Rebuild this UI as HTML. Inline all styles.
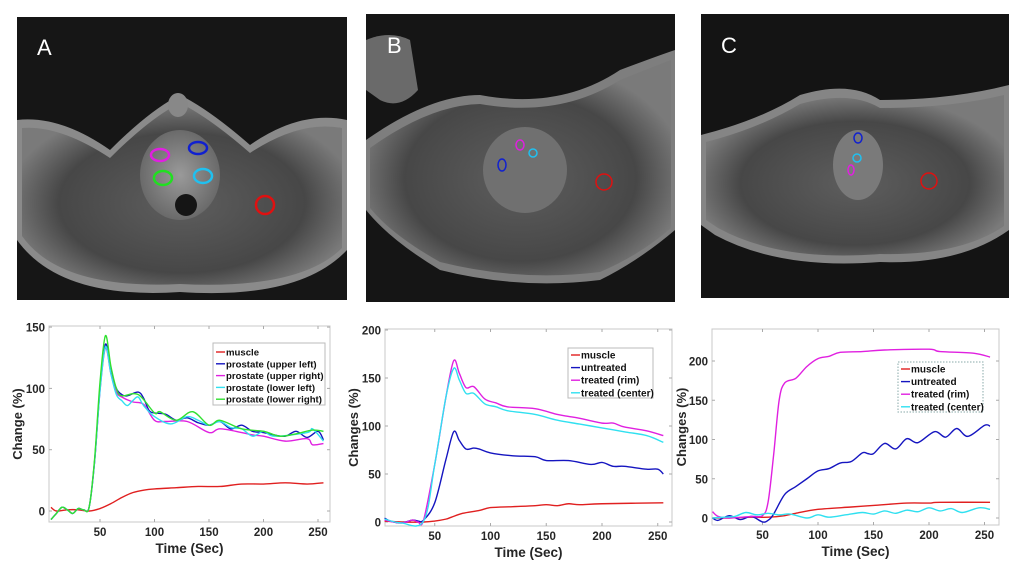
<!DOCTYPE html>
<html><head><meta charset="utf-8">
<style>
html,body{margin:0;padding:0;background:#fff;}
svg{display:block;}
text{font-family:"Liberation Sans",Arial,sans-serif;}
.t{font-size:11.5px;font-weight:bold;fill:#262626;}
.l{font-size:13.5px;font-weight:bold;fill:#262626;}
.y{font-size:13px;font-weight:bold;fill:#262626;}
.g{font-weight:bold;fill:#111;}
</style></head><body>
<svg id="s" width="1027" height="574" viewBox="0 0 1027 574" xmlns="http://www.w3.org/2000/svg">
<defs>
<radialGradient id="bd" cx="50%" cy="55%" r="55%"><stop offset="0" stop-color="#5e5e5e"/><stop offset="0.7" stop-color="#474747"/><stop offset="1" stop-color="#7a7a7a"/></radialGradient>
<radialGradient id="pr" cx="50%" cy="50%" r="50%"><stop offset="0" stop-color="#9a9a9a"/><stop offset="1" stop-color="#6a6a6a"/></radialGradient>
</defs>
<rect x="17" y="17" width="330" height="283" fill="#161616"/>
<path d="M17 120 Q60 115 110 150 Q150 110 180 95 Q210 110 250 145 Q300 110 347 120 L347 250 Q300 300 180 292 Q60 300 17 240Z" fill="#8a8a8a"/>
<path d="M22 128 Q60 125 110 158 Q150 118 180 103 Q210 118 250 153 Q300 120 342 128 L342 248 Q300 290 180 284 Q60 290 22 236Z" fill="url(#bd)"/>
<ellipse cx="180" cy="175" rx="40" ry="45" fill="url(#pr)"/>
<circle cx="186" cy="205" r="11" fill="#151515"/>
<ellipse cx="178" cy="105" rx="10" ry="12" fill="#888"/>
<text x="37" y="55" font-size="22" fill="#fff" font-family="Liberation Sans">A</text>
<ellipse cx="160" cy="155" rx="9" ry="6" fill="none" stroke="#e020e0" stroke-width="2.5"/>
<ellipse cx="198" cy="148" rx="9" ry="6" fill="none" stroke="#1020d0" stroke-width="2.5"/>
<ellipse cx="163" cy="178" rx="9" ry="7" fill="none" stroke="#20e020" stroke-width="2.5"/>
<ellipse cx="203" cy="176" rx="9" ry="7" fill="none" stroke="#20c0f0" stroke-width="2.5"/>
<ellipse cx="265" cy="205" rx="9" ry="9" fill="none" stroke="#e01010" stroke-width="2.5"/>
<rect x="366" y="14" width="309" height="288" fill="#151515"/>
<path d="M366 140 Q430 95 480 95 Q560 110 620 70 Q660 55 675 50 L675 230 Q640 260 600 280 Q520 290 440 270 Q390 240 366 210Z" fill="#7e7e7e"/>
<path d="M370 148 Q430 105 480 104 Q560 118 620 80 Q660 64 671 60 L671 228 Q640 255 600 272 Q520 282 440 262 Q392 235 370 208Z" fill="url(#bd)"/>
<path d="M366 40 Q390 30 410 40 L418 90 Q400 110 380 100 L366 90Z" fill="#6a6a6a"/>
<ellipse cx="525" cy="170" rx="42" ry="43" fill="#707070"/>
<text x="387" y="53" font-size="22" fill="#fff" font-family="Liberation Sans">B</text>
<ellipse cx="520" cy="145" rx="4" ry="5" fill="none" stroke="#e020e0" stroke-width="1.5"/>
<ellipse cx="533" cy="153" rx="4" ry="4" fill="none" stroke="#20c0f0" stroke-width="1.5"/>
<ellipse cx="502" cy="165" rx="4" ry="6" fill="none" stroke="#1020d0" stroke-width="1.5"/>
<ellipse cx="604" cy="182" rx="8" ry="8" fill="none" stroke="#e01010" stroke-width="1.5"/>
<rect x="701" y="14" width="308" height="284" fill="#141414"/>
<path d="M701 135 Q760 120 800 95 Q850 80 880 100 Q950 100 1009 85 L1009 230 Q960 265 880 262 Q780 270 715 235 L701 225Z" fill="#858585"/>
<path d="M706 142 Q760 128 800 104 Q850 90 880 108 Q950 108 1004 95 L1004 226 Q960 256 880 254 Q780 262 718 228 L706 220Z" fill="url(#bd)"/>
<ellipse cx="858" cy="165" rx="25" ry="35" fill="#7a7a7a"/>
<text x="721" y="53" font-size="22" fill="#fff" font-family="Liberation Sans">C</text>
<ellipse cx="858" cy="138" rx="4" ry="5" fill="none" stroke="#1020d0" stroke-width="1.5"/>
<ellipse cx="857" cy="158" rx="4" ry="4" fill="none" stroke="#20c0f0" stroke-width="1.5"/>
<ellipse cx="851" cy="170" rx="3" ry="5" fill="none" stroke="#e020e0" stroke-width="1.5"/>
<ellipse cx="929" cy="181" rx="8" ry="8" fill="none" stroke="#e01010" stroke-width="1.5"/>
<g id="charts"></g>
</svg>
<script>
var NS="http://www.w3.org/2000/svg",G=document.getElementById("charts");
function el(t,a,txt){var e=document.createElementNS(NS,t);for(var k in a)e.setAttribute(k,a[k]);if(txt!=null)e.textContent=txt;G.appendChild(e);return e;}
function path(pts,fx,fy,col){var p=pts.map(function(q){return[fx(q[0]),fy(q[1])]});var d="M"+p[0][0]+" "+p[0][1];
for(var i=0;i<p.length-1;i++){var p0=p[i-1]||p[i],p1=p[i],p2=p[i+1],p3=p[i+2]||p2;
d+=" C"+(p1[0]+(p2[0]-p0[0])/6)+" "+(p1[1]+(p2[1]-p0[1])/6)+" "+(p2[0]-(p3[0]-p1[0])/6)+" "+(p2[1]-(p3[1]-p1[1])/6)+" "+p2[0]+" "+p2[1];}
el("path",{d:d,fill:"none",stroke:col,"stroke-width":1.4});}
function chart(c){
var fx=function(t){return c.x0+t*c.kx},fy=function(v){return c.y0-v*c.ky};
el("rect",{x:c.L,y:c.T,width:c.R-c.L,height:c.B-c.T,fill:"#fff",stroke:"#c8c8c8","stroke-width":1});
[50,100,150,200,250].forEach(function(t){var x=fx(t);el("line",{x1:x,x2:x,y1:c.B,y2:c.B-3,stroke:"#aaa"});el("line",{x1:x,x2:x,y1:c.T,y2:c.T+3,stroke:"#aaa"});el("text",{x:x,y:c.B+14,"text-anchor":"middle","class":"t"},t);});
c.yt.forEach(function(v){var y=fy(v);el("line",{x1:c.L,x2:c.L+3,y1:y,y2:y,stroke:"#aaa"});el("line",{x1:c.R,x2:c.R-3,y1:y,y2:y,stroke:"#aaa"});el("text",{x:c.L-4,y:y+4.5,"text-anchor":"end","class":"t"},v);});
el("text",{x:(c.L+c.R)/2,y:c.B+31,"text-anchor":"middle","class":"l"},"Time (Sec)");
el("text",{x:c.yl,y:(c.T+c.B)/2,"text-anchor":"middle","class":"y",transform:"rotate(-90 "+c.yl+" "+(c.T+c.B)/2+")"},c.ylab);
c.s.forEach(function(s){path(s[1],fx,fy,s[0]);});
var lg=c.lg;el("rect",{x:lg[0],y:lg[1],width:lg[2],height:lg[3],fill:"#fff",stroke:c.dash?"#8aa":"#bbb","stroke-dasharray":c.dash?"1.5 1.5":"none"});
c.s.forEach(function(s,i){var y=lg[4]+i*lg[5];el("line",{x1:lg[0]+3,x2:lg[0]+12,y1:y,y2:y,stroke:s[0],"stroke-width":1.4});el("text",{x:lg[0]+13,y:y+3.5,"class":"g","font-size":c.fs},s[2]);});
}
chart({L:49,R:330,T:326,B:522,x0:45.5,kx:1.09,y0:511,ky:1.226,yt:[0,50,100,150],yl:22,ylab:"Change (%)",fs:9.6,lg:[213,343,112,62,352,11.8],
s:[["#e02020",[[5,3],[10,0],[20,1],[30,1],[40,0],[50,2],[60,6],[70,11],[80,15],[90,17],[100,18],[120,19],[140,20],[160,20],[180,22],[200,22],[220,23],[240,22],[255,23]],"muscle"],
["#1515c0",[[5,-7],[10,-2],[15,3],[20,1],[25,-2],[30,2],[35,1],[40,3],[45,40],[50,100],[55,136],[60,115],[65,100],[70,95],[75,94],[85,97],[90,92],[95,82],[100,80],[110,79],[120,74],[130,76],[140,72],[150,70],[160,73],[170,67],[180,70],[190,65],[200,64],[210,62],[220,61],[230,65],[240,60],[250,65],[255,58]],"prostate (upper left)"],
["#e020e0",[[5,-7],[10,-2],[15,3],[20,1],[25,-2],[30,2],[35,1],[40,3],[45,40],[50,98],[55,133],[60,112],[65,97],[70,93],[80,89],[90,87],[100,74],[110,73],[130,73],[150,64],[160,67],[180,64],[190,62],[200,61],[220,57],[240,59],[245,54],[255,55]],"prostate (upper right)"],
["#30e0f0",[[5,-7],[10,-2],[15,3],[20,1],[25,-2],[30,2],[35,1],[40,3],[45,40],[50,98],[55,134],[60,112],[65,95],[70,90],[75,86],[80,90],[85,93],[90,86],[100,77],[115,71],[130,77],[140,74],[150,70],[160,73],[170,68],[180,67],[190,61],[200,65],[210,61],[240,64],[245,67],[255,57]],"prostate (lower left)"],
["#30e030",[[5,-7],[10,-2],[15,3],[20,1],[25,-2],[30,2],[35,1],[40,3],[45,42],[50,105],[55,143],[60,118],[65,100],[70,94],[85,95],[100,80],[105,81],[120,74],[135,81],[150,70],[160,74],[180,67],[200,65],[215,61],[230,63],[245,66],[255,65]],"prostate (lower right)"]]});
chart({L:385,R:672,T:329,B:526,x0:379,kx:1.115,y0:522,ky:0.96,yt:[0,50,100,150,200],yl:358,ylab:"Changes (%)",fs:10,lg:[568,348,85,50,355,12.6],
s:[["#e02020",[[5,1],[20,0],[40,0],[50,1],[60,3],[65,5],[75,9],[90,12],[100,15],[120,16],[140,17],[150,18],[160,17],[170,19],[180,18],[200,19],[255,20]],"muscle"],
["#1515c0",[[5,4],[10,1],[20,-1],[30,2],[35,1],[40,2],[50,20],[60,65],[67,94],[72,85],[78,76],[85,77],[90,76],[100,72],[120,69],[140,68],[150,64],[170,64],[190,60],[200,62],[210,58],[220,58],[240,55],[250,55],[255,50]],"untreated"],
["#e020e0",[[5,2],[20,-1],[30,2],[35,0],[40,2],[50,60],[60,130],[67,168],[72,155],[78,140],[85,141],[95,128],[105,124],[115,120],[140,118],[160,112],[170,110],[180,108],[200,103],[210,103],[220,99],[240,95],[255,90]],"treated (rim)"],
["#30e0f0",[[5,3],[20,-1],[40,1],[50,60],[60,130],[67,160],[72,148],[78,134],[85,134],[95,123],[105,120],[115,116],[140,112],[160,106],[180,102],[200,98],[220,94],[240,90],[255,83]],"treated (center)"]]});
chart({L:712,R:999,T:329,B:525,x0:707,kx:1.11,y0:518,ky:0.785,yt:[0,50,100,150,200],yl:686,ylab:"Changes (%)",fs:10,lg:[898,362,85,50,369,12.6],dash:true,
s:[["#e02020",[[5,0],[20,0],[40,1],[55,1],[70,3],[80,6],[100,11],[130,14],[150,16],[180,19],[200,19],[210,20],[255,20]],"muscle"],
["#1515c0",[[5,0],[10,-3],[20,3],[30,-2],[40,2],[50,-5],[55,-3],[60,5],[70,30],[80,40],[90,50],[100,60],[110,63],[120,70],[130,72],[140,83],[145,82],[150,82],[160,95],[170,88],[180,101],[190,96],[205,110],[215,103],[225,114],[235,104],[250,118],[255,117]],"untreated"],
["#e020e0",[[5,8],[10,2],[20,0],[40,2],[50,3],[55,20],[60,80],[65,150],[70,172],[80,178],[90,193],[100,203],[110,206],[120,211],[140,212],[160,214],[200,215],[210,212],[240,210],[255,205]],"treated (rim)"],
["#30e0f0",[[5,0],[15,1],[25,2],[35,7],[45,4],[55,6],[65,4],[75,5],[90,0],[100,4],[110,1],[125,4],[140,7],[150,5],[160,9],[170,6],[180,10],[190,8],[200,13],[210,9],[220,12],[230,7],[245,13],[255,11]],"treated (center)"]]});
</script>
</body></html>
